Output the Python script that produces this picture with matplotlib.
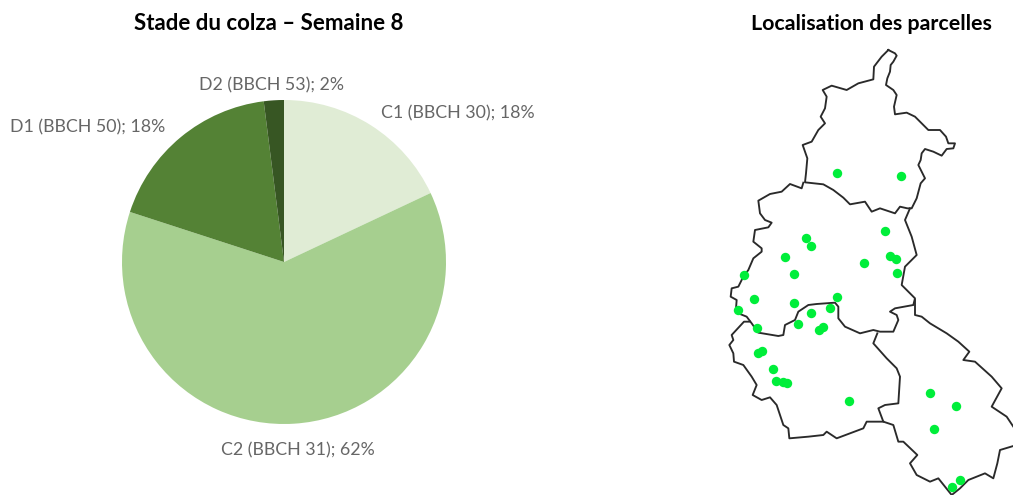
import numpy as np
import matplotlib
matplotlib.use('Agg')
import matplotlib.pyplot as plt

plt.rcParams['font.family'] = ['Lato', 'DejaVu Sans']

stages = ['C1 (BBCH 30)', 'C2 (BBCH 31)', 'D1 (BBCH 50)', 'D2 (BBCH 53)']
shares = [18, 62, 18, 2]
colors = ['#e0ecd5', '#a6cf8f', '#548235', '#375623']
title_left = 'Stade du colza – Semaine 8'
title_right = 'Localisation des parcelles'

# Department outlines, each in its own tracing frame
ardennes = [(265,15),(285,25),(290,32),(280,50),(272,60),(270,80),(262,100),(258,120),(280,135),(290,150),(282,185),(285,208),
            (320,203),(345,215),(365,235),(385,255),(420,255),(438,275),(445,295),(465,295),(460,310),(440,312),(425,332),
            (400,320),(375,312),(365,325),(362,345),(355,360),(375,400),(362,415),(350,460),(335,490),(322,490),(300,485),
            (285,505),(240,490),(215,500),(195,470),(150,478),(130,458),(100,435),(70,418),(15,412),(18,385),(22,340),(8,300),
            (35,290),(55,255),(75,235),(62,215),(75,190),(80,155),(68,135),(95,122),(140,135),(175,115),(220,103),(222,65),
            (245,35),(265,15)]
marne = [(250,8),(245,25),(210,12),(185,35),(150,42),(115,62),(120,100),(135,120),(155,128),(145,142),(105,150),(100,185),
         (125,205),(125,215),(100,235),(85,270),(70,290),(55,320),(35,325),(32,350),(50,360),(48,385),(55,400),(80,410),
         (95,430),(115,458),(175,468),(190,465),(195,435),(225,420),(235,395),(265,375),(290,372),(345,368),(355,380),
         (355,415),(375,440),(420,460),(460,450),(480,455),(520,455),(535,420),(530,405),(510,395),(525,385),(580,375),
         (585,355),(545,315),(555,260),(590,225),(575,170),(555,120),(570,85)]
aube = [(90,5),(72,5),(35,45),(40,60),(28,75),(40,100),(42,125),(70,135),(95,170),(110,195),(98,225),(125,240),(150,232),
        (170,255),(190,315),(205,325),(208,355),(265,350),(310,345),(320,335),(350,355),(430,325),(440,305),(490,305)]
haute_marne = [(165,0),(165,45),(185,50),(210,70),(260,100),(295,125),(328,155),(310,180),(345,185),(395,230),(425,265),
               (395,320),(440,350),(470,395),(470,435),(420,450),(412,490),(400,535),(375,520),(325,540),(300,565),(275,585),
               (235,535),(210,545),(170,525),(150,490),(172,465),(130,425),(115,425),(100,375),(70,365),(55,325),(75,315),
               (115,310),(120,230),(110,205),(80,175),(40,130),(52,100)]
parcel_x = [837,901,885,806,811,785,890,896,864,744,794,897,754,794,837,738,830,811,798,757,823,819,762,758,773,776,783,787,849,930,956,934,960,952]
parcel_y = [173,176,231,238,246,257,256,259,263,275,274,273,299,303,297,310,308,313,324,328,327,330,351,353,369,381,382,383,401,393,406,429,480,487]

W, H = 1013, 495
fig = plt.figure(figsize=(W/100, H/100), dpi=100, facecolor='white')

# pie: centre (284,262), radius 162 px
R = 162; cx = 284; cy = 262
ax = fig.add_axes([(cx-R)/W, 1-(cy+R)/H, 2*R/W, 2*R/H])
ax.pie(shares, colors=colors, startangle=90, counterclock=False, radius=1,
       wedgeprops=dict(linewidth=0))
ax.set_xlim(-1, 1); ax.set_ylim(-1, 1); ax.set_aspect('equal')

fig.text(269/W, 1-24/H, title_left, ha='center', va='center', fontsize=16, fontweight='bold', color='black')
fig.text(871/W, 1-24/H, title_right, ha='center', va='center', fontsize=15.4, fontweight='bold', color='black')

label_pos = [(458, 113), (298, 450), (88, 127), (271, 85)]
for s, v, (x, y) in zip(stages, shares, label_pos):
    fig.text(x/W, 1-y/H, f'{s}; {v}%', ha='center', va='center', fontsize=12.8, color='#666666')

# map, in picture pixels
m = fig.add_axes([700/W, 0, 313/W, 1])
m.set_xlim(700, 1013); m.set_ylim(495, 0); m.axis('off')
frames = [(ardennes, 800, 45), (marne, 720, 180), (aube, 720, 320), (haute_marne, 860, 300)]
for line, x0, y0 in frames:
    a = np.array(line, float)
    m.plot(x0 + a[:, 0]/3, y0 + a[:, 1]/3, color='#2a2a2a', lw=1.35, solid_joinstyle='round')
m.scatter(parcel_x, parcel_y, s=46, color='#00ee3a', linewidths=0, zorder=3)

fig.savefig('out.png', dpi=100)
